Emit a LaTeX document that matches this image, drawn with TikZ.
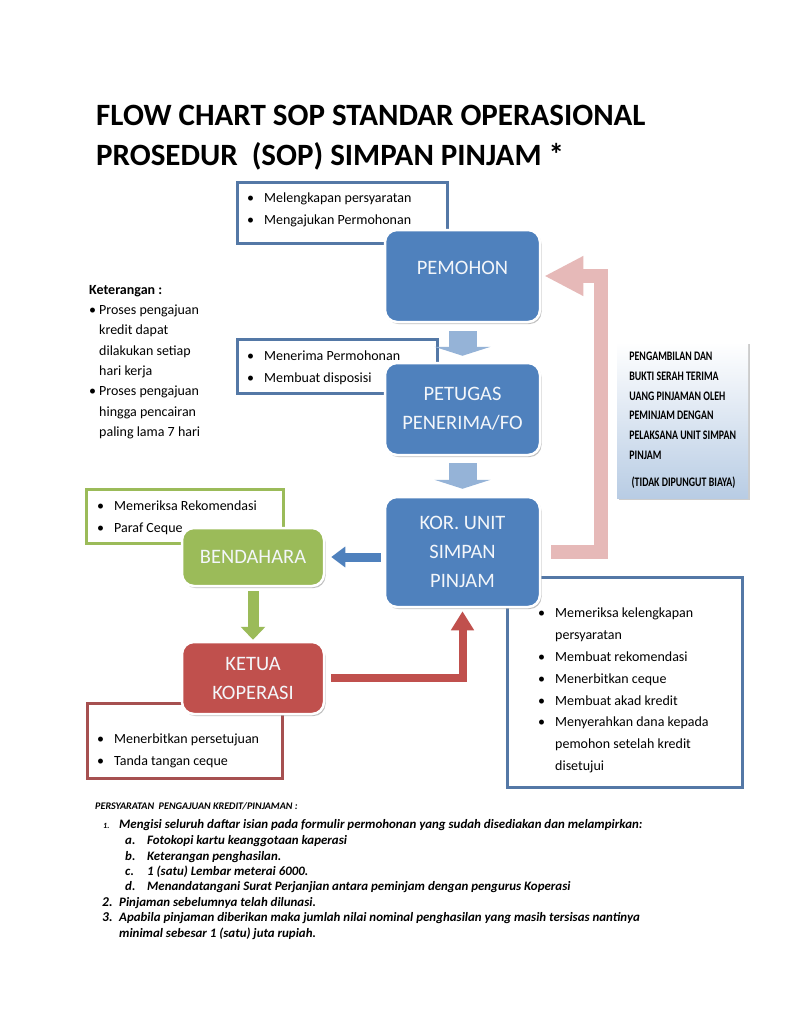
\documentclass[tikz,border=0pt]{standalone}
\usepackage{fontspec}
\setmainfont{Carlito}
\newfontfamily\condfont[FakeStretch=0.76]{Carlito}
\usepackage{tikz}
\usetikzlibrary{arrows.meta,shadows,positioning}
\definecolor{mblue}{RGB}{79,129,189}
\definecolor{mgreen}{RGB}{155,187,89}
\definecolor{mred}{RGB}{192,80,77}
\definecolor{lineblue}{RGB}{84,120,166}
\definecolor{linered}{RGB}{166,80,80}
\definecolor{lblue}{RGB}{149,179,215}
\definecolor{pinkc}{RGB}{230,185,184}
\definecolor{gradblue}{RGB}{184,204,228}
\newcommand{\bitem}[1]{\makebox[17pt][l]{\textbullet}#1}
\newcommand{\kitem}[1]{\makebox[10pt][l]{\textbullet}#1}
\tikzset{
    mainbox/.style={
        rectangle, rounded corners=12pt,
        draw=white, line width=2.5pt,
        text=white!93!mblue, align=center,
        font=\fontsize{20.5}{29}\selectfont,
        minimum width=155pt,
        drop shadow={shadow xshift=1.5pt, shadow yshift=-2pt, opacity=0.45, fill=black!55}
    },
    % kotak garis tepi untuk daftar tugas
    outbox/.style={
        rectangle, draw, line width=2.5pt, fill=white, anchor=north west, inner sep=0pt
    },
    listtxt/.style={
        anchor=north west, align=left, inner sep=0pt,
        font=\fontsize{14}{22}\selectfont
    },
    titletxt/.style={
        anchor=base west, inner sep=0pt,
        font=\bfseries\fontsize{31}{40}\selectfont
    },
    reqtxt/.style={
        anchor=base west, inner sep=0pt,
        font=\bfseries\itshape\fontsize{12.9}{15}\selectfont
    },
    lbarrow/.style={
        line width=28pt, lblue, -{Triangle[length=9pt, width=56pt]}
    },
    pinkarrow/.style={
        line width=14pt, pinkc, line join=miter, -{Triangle[length=39pt, width=37pt]}
    },
    bluearrow/.style={
        line width=9pt, mblue, -{Triangle[length=14pt, width=20pt]}
    },
    greenarrow/.style={
        line width=11pt, mgreen, -{Triangle[length=13pt, width=24pt]}
    },
    redarrow/.style={
        line width=8pt, mred, line join=miter, -{Triangle[length=19pt, width=22pt]}
    }
}
\begin{document}
\begin{tikzpicture}[x=1pt,y=-1pt]
    \fill[white] (0,0) rectangle (792,1023);
    \useasboundingbox (0,0) rectangle (792,1023);

    \node[titletxt] (title1) at (96,125) {FLOW CHART SOP STANDAR OPERASIONAL};
    \node[titletxt] (title2) at (96,165) {PROSEDUR\ \ (SOP) SIMPAN PINJAM *};

    % keterangan
    \node[listtxt, font=\fontsize{14}{20.3}\selectfont] (ket) at (89,285)
        {\textbf{Keterangan :}\\
         \kitem{Proses pengajuan}\\ \hspace*{10pt}kredit dapat\\
         \hspace*{10pt}dilakukan setiap\\ \hspace*{10pt}hari kerja\\
         \kitem{Proses pengajuan}\\ \hspace*{10pt}hingga pencairan\\
         \hspace*{10pt}paling lama 7 hari};

    % kotak daftar
    \node[outbox, draw=lineblue, minimum width=210, minimum height=61] (boxpemohon) at (236,181) {};
    \node[outbox, draw=lineblue, minimum width=200, minimum height=54] (boxpetugas) at (236,338) {};
    \node[outbox, draw=mgreen, minimum width=197, minimum height=54] (boxbendahara) at (85,488) {};
    \node[outbox, draw=linered, minimum width=195, minimum height=75] (boxketua) at (86,702) {};
    \node[outbox, draw=lineblue, minimum width=235, minimum height=210] (boxkor) at (506,576) {};

    \node[listtxt] (listpemohon) at (247,193)
        {\bitem{Melengkapan persyaratan}\\ \bitem{Mengajukan Permohonan}};
    \node[listtxt] (listpetugas) at (247,351)
        {\bitem{Menerima Permohonan}\\ \bitem{Membuat disposisi}};
    \node[listtxt] (listketua) at (97,734)
        {\bitem{Menerbitkan persetujuan}\\ \bitem{Tanda tangan ceque}};
    \node[listtxt, font=\fontsize{14}{21.8}\selectfont] (listkor) at (538,608)
        {\bitem{Memeriksa kelengkapan}\\ \hspace*{17pt}persyaratan\\
         \bitem{Membuat rekomendasi}\\ \bitem{Menerbitkan ceque}\\
         \bitem{Membuat akad kredit}\\ \bitem{Menyerahkan dana kepada}\\
         \hspace*{17pt}pemohon setelah kredit\\ \hspace*{17pt}disetujui};

    % kotak proses
    \node[mainbox, fill=mblue, minimum height=92, text depth=16pt] (pemohon) at (462.5,276) {PEMOHON};
    \node[mainbox, fill=mblue, minimum height=92] (petugas) at (462.5,409) {PETUGAS\\PENERIMA/FO};
    \node[mainbox, fill=mblue, minimum height=110] (kor) at (462.5,552) {KOR. UNIT\\SIMPAN\\PINJAM};
    \node[mainbox, fill=mgreen, minimum width=142, minimum height=58] (bendahara) at (253,557) {BENDAHARA};
    \node[mainbox, fill=mred, minimum width=142, minimum height=72] (ketua) at (253,678) {KETUA\\KOPERASI};

    \node[listtxt] (listbendahara) at (97,501)
        {\bitem{Memeriksa Rekomendasi}\\ \bitem{Paraf Ceque}};

    % panah
    \draw[lbarrow] ([yshift=-8pt]pemohon.south) -- ([yshift=6pt]petugas.north);
    \draw[lbarrow] ([yshift=-7pt]petugas.south) -- ([yshift=7pt]kor.north);
    \draw[bluearrow] ([xshift=-3pt]kor.west |- bendahara.east) -- ([xshift=6pt]bendahara.east);
    \draw[greenarrow] ([yshift=-4pt]bendahara.south) -- ([yshift=1pt]ketua.north);
    \draw[redarrow] ([xshift=6pt]ketua.east) -| ([yshift=-3pt]kor.south);
    \draw[pinkarrow] ([xshift=10pt]kor.east) -- ++(50,0) |- ([xshift=3pt]pemohon.east);

    \node[anchor=north west, minimum width=131, minimum height=156,
        inner sep=0pt, align=left, top color=white, bottom color=gradblue,
        drop shadow={shadow xshift=1.5pt, shadow yshift=-2pt, opacity=0.4, fill=black!50},
        font=\condfont\bfseries\fontsize{13}{19.7}\selectfont] (serah) at (617,342)
        {PENGAMBILAN DAN\\BUKTI SERAH TERIMA\\UANG PINJAMAN OLEH\\PEMINJAM DENGAN\\
         PELAKSANA UNIT SIMPAN\\PINJAM\\[7pt]\ (TIDAK DIPUNGUT BIAYA)};

    % persyaratan
    \node[reqtxt, font=\bfseries\itshape\fontsize{10.1}{12}\selectfont] (syarat) at (95,809)
        {PERSYARATAN\ \ PENGAJUAN KREDIT/PINJAMAN :};
    \node[reqtxt] (syarat1) at (103,828)
        {\makebox[16pt][l]{\fontsize{8}{8}\selectfont 1.}Mengisi seluruh daftar isian pada formulir permohonan yang sudah disediakan dan melampirkan:};
    \node[reqtxt] (syarata) at (125,844) {\makebox[22pt][l]{a.}Fotokopi kartu keanggotaan kaperasi};
    \node[reqtxt] (syaratb) at (125,860) {\makebox[22pt][l]{b.}Keterangan penghasilan.};
    \node[reqtxt] (syaratc) at (125,875) {\makebox[22pt][l]{c.}1 (satu) Lembar meterai 6000.};
    \node[reqtxt] (syaratd) at (125,890) {\makebox[22pt][l]{d.}Menandatangani Surat Perjanjian antara peminjam dengan pengurus Koperasi};
    \node[reqtxt] (syarat2) at (102,906) {\makebox[17pt][l]{\fontsize{13.5}{13}\selectfont 2.}Pinjaman sebelumnya telah dilunasi.};
    \node[reqtxt] (syarat3) at (102,921) {\makebox[17pt][l]{\fontsize{13.5}{13}\selectfont 3.}Apabila pinjaman diberikan maka jumlah nilai nominal penghasilan yang masih tersisas nantinya};
    \node[reqtxt] (syarat3b) at (119,937) {minimal sebesar 1 (satu) juta rupiah.};
\end{tikzpicture}
\end{document}
